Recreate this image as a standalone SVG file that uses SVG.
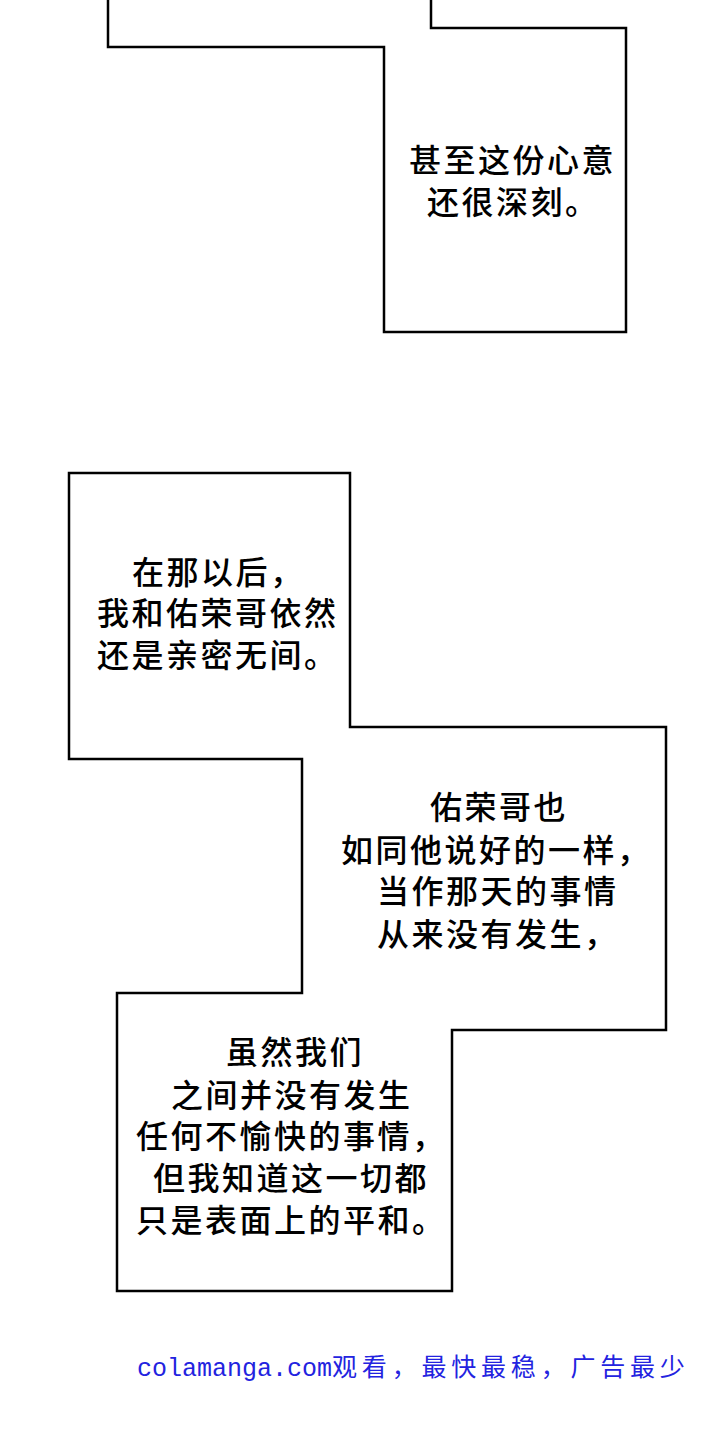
<svg xmlns="http://www.w3.org/2000/svg" width="720" height="1430" viewBox="0 0 720 1430">
<style>
.p{fill:#fff;stroke:#000;stroke-width:2.5}
.t{font-family:"Noto Sans CJK SC","Noto Sans CJK JP",sans-serif;font-size:32px;letter-spacing:2.5px;font-weight:500;fill:#000}
.f{font-family:"Liberation Mono","Noto Sans CJK SC",monospace;font-size:25px;fill:#2323e0}
</style>
<rect width="720" height="1430" fill="#fff"/>
<g id="panel-top">
<polyline class="p" points="108,0 108,47 384,47 384,332 626,332 626,28 431,28 431,0"/>
<text class="t" x="409" y="172">甚至这份心意</text>
<text class="t" x="427" y="214">还很深刻。</text>
</g>
<g id="panel-middle">
<polygon class="p" points="69,473 350,473 350,727 666,727 666,1030 452,1030 452,1291 117,1291 117,993 302,993 302,759 69,759"/>
<text class="t" x="132" y="584">在那以后，</text>
<text class="t" x="97" y="625">我和佑荣哥依然</text>
<text class="t" x="97" y="667">还是亲密无间。</text>
<text class="t" x="430" y="819">佑荣哥也</text>
<text class="t" x="341" y="862">如同他说好的一样，</text>
<text class="t" x="377" y="903">当作那天的事情</text>
<text class="t" x="377" y="946">从来没有发生，</text>
<text class="t" x="226" y="1064">虽然我们</text>
<text class="t" x="171" y="1107">之间并没有发生</text>
<text class="t" x="136" y="1148">任何不愉快的事情，</text>
<text class="t" x="153" y="1190">但我知道这一切都</text>
<text class="t" x="136" y="1232">只是表面上的平和。</text>
</g>
<text class="f" x="137" y="1376">colamanga.com<tspan letter-spacing="4.8">观看，最快最稳，广告最少</tspan></text>
</svg>
